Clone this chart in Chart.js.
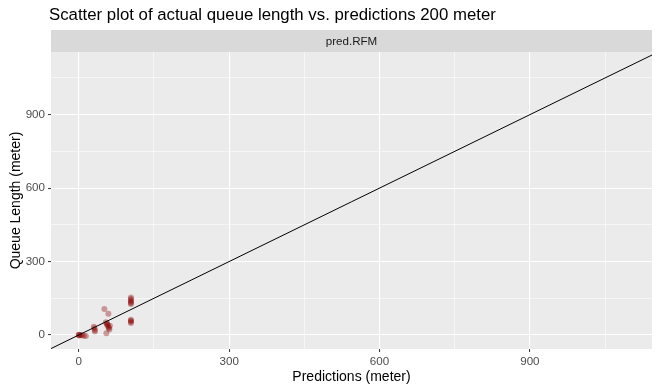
<!DOCTYPE html>
<html>
<head>
<meta charset="utf-8">
<script src="https://cdn.jsdelivr.net/npm/chart.js@4/dist/chart.umd.min.js"></script>
<style>
  html, body { margin: 0; padding: 0; background: #fff; }
  #wrap { width: 656px; height: 389px; }
</style>
</head>
<body>
<div id="wrap"><canvas id="scatterChart" width="656" height="389"></canvas></div>
<script>
// Predictions vs. actual queue length (meter), facet pred.RFM
const predX = [0, 0, 1, 3, 6, 10, 14,
    30, 31, 32, 32,
    51, 59, 54, 56, 57, 59, 60, 61, 55, 62, 57,
    104, 104, 104, 104, 104, 104,
    104, 104, 104, 104];
const actualY = [0, 1, -2, 0, -1, -3, -4,
    34, 28, 20, 14,
    106, 87, 52, 47, 40, 33, 29, 22, 7, 38, 44,
    153, 147, 141, 136, 131, 127,
    62, 58, 54, 49];

// y = x reference line
const refX = [-100, 1200];
const refY = [-100, 1200];

const gridTicks = [0, 150, 300, 450, 600, 750, 900, 1050];
const labelStep = 300;

const isMajor = v => v % labelStep === 0;

const facetPlugin = {
    id: 'facet',
    beforeDraw(chart) {
        const { ctx, chartArea } = chart;
        ctx.save();
        // panel background
        ctx.fillStyle = '#EBEBEB';
        ctx.fillRect(chartArea.left, chartArea.top, chartArea.right - chartArea.left, chartArea.bottom - chartArea.top);
        // strip
        ctx.fillStyle = '#D9D9D9';
        ctx.fillRect(chartArea.left, 30, chartArea.right - chartArea.left, chartArea.top - 30);
        ctx.fillStyle = '#1A1A1A';
        ctx.font = '11.6px "Liberation Sans", Arial, sans-serif';
        ctx.textAlign = 'center';
        ctx.textBaseline = 'middle';
        ctx.fillText('pred.RFM', (chartArea.left + chartArea.right) / 2, 41.5);
        // title
        ctx.fillStyle = '#000';
        ctx.font = '16.8px "Liberation Sans", Arial, sans-serif';
        ctx.textAlign = 'left';
        ctx.textBaseline = 'alphabetic';
        ctx.fillText('Scatter plot of actual queue length vs. predictions 200 meter', 49, 20);
        ctx.restore();
    }
};

function axisOptions(min, max, titleText, size) {
    return {
        type: 'linear',
        min: min,
        max: max,
        afterBuildTicks: scale => { scale.ticks = gridTicks.map(v => ({ value: v })); },
        afterFit: scale => {
            if (scale.isHorizontal()) scale.height = size; else scale.width = size;
        },
        border: { display: false },
        grid: {
            color: '#FFFFFF',
            lineWidth: ctx => isMajor(ctx.tick.value) ? 1.1 : 0.55,
            tickColor: ctx => isMajor(ctx.tick.value) ? '#333333' : 'rgba(0,0,0,0)',
            tickLength: 3,
            tickWidth: 1
        },
        ticks: {
            autoSkip: false,
            maxRotation: 0,
            padding: 3,
            color: '#4D4D4D',
            font: { family: '"Liberation Sans", Arial, sans-serif', size: 11.6 },
            callback: v => isMajor(v) ? String(v) : ''
        },
        title: {
            display: true,
            text: titleText,
            color: '#000',
            font: { family: '"Liberation Sans", Arial, sans-serif', size: 14 },
            padding: { top: 8, bottom: 3 }
        }
    };
}

const scatterChart = new Chart(document.getElementById('scatterChart'), {
    type: 'scatter',
    data: {
        datasets: [
            {
                label: 'pred.RFM',
                data: predX.map((x, i) => ({ x: x, y: actualY[i] })),
                backgroundColor: 'rgba(139,0,0,0.36)',
                borderWidth: 0,
                pointRadius: 3,
                order: 2
            },
            {
                label: 'y = x',
                data: refX.map((x, i) => ({ x: x, y: refY[i] })),
                showLine: true,
                borderColor: '#000000',
                borderWidth: 1,
                pointRadius: 0,
                fill: false,
                order: 1
            }
        ]
    },
    options: {
        responsive: false,
        animation: false,
        layout: { padding: { top: 52, left: 0, right: 0, bottom: 0 } },
        plugins: {
            legend: { display: false },
            title: { display: false },
            tooltip: { enabled: false }
        },
        scales: {
            x: axisOptions(-55.5, 1143.7, 'Predictions (meter)', 40),
            y: axisOptions(-57.2, 1156, 'Queue Length (meter)', 51)
        }
    },
    plugins: [facetPlugin]
});
</script>
</body>
</html>
